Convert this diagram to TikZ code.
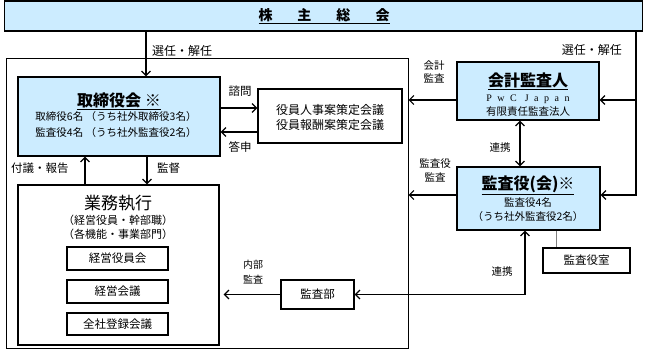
\documentclass[tikz,border=0pt]{standalone}
\usepackage{fontspec}
\setmainfont{Noto Sans CJK JP}
\newfontfamily\latinspaced[LetterSpace=55]{Liberation Serif}
\usetikzlibrary{arrows.meta}
\definecolor{boxblue}{HTML}{CCECFF}
\tikzset{
  box/.style={draw=black, line width=1.2pt, inner sep=0pt, rectangle},
  bluebox/.style={box, fill=boxblue},
  txt/.style={inner sep=0pt, align=center, font=\fontsize{10.5}{14}\selectfont},
  lbl/.style={inner sep=0pt, align=center, font=\fontsize{11.5}{14}\selectfont},
  ttl/.style={inner sep=0pt, font=\fontsize{16}{18}\selectfont\bfseries},
  arr/.style={line width=1.2pt, -{Straight Barb[length=4.5pt,width=9pt]}},
  dblarr/.style={line width=1.2pt, {Straight Barb[length=4.5pt,width=9pt]}-{Straight Barb[length=4.5pt,width=9pt]}},
  plain/.style={line width=1.2pt}
}
\begin{document}
\begin{tikzpicture}[x=1pt,y=-1pt]
\useasboundingbox (0,0) rectangle (645,351);
% helper coordinates
\coordinate (x85) at (85,0);
\coordinate (x146) at (146,0);
\coordinate (x147) at (147,0);
\coordinate (x520) at (520,0);
\coordinate (x525) at (525,0);
\coordinate (x556) at (556,0);
\coordinate (xR) at (636,0);
\coordinate (y100) at (0,100);
\coordinate (y108) at (0,108);
\coordinate (y132) at (0,132);
\coordinate (y195) at (0,195);

% boxes
\node[bluebox, minimum width=638, minimum height=30] (soc) at (323.5,16) {};
\node[inner sep=0pt, font=\fontsize{14}{16}\selectfont\bfseries] (soct) at (324,16)
  {\underline{株\hspace{25pt}主\hspace{25pt}総\hspace{25pt}会}};

\node[draw=black, line width=1pt, inner sep=0pt, minimum width=402, minimum height=290] (outer) at (207,203) {};

\node[bluebox, minimum width=202, minimum height=79] (board) at (119,116.5) {};
\node[ttl] (boardt) at (119,101) {\underline{取締役会 ※}};
\node[txt] (board1) at (116,117) {取締役6名 （うち社外取締役3名）};
\node[txt] (board2) at (116,133) {監査役4名 （うち社外監査役2名）};

\node[box, minimum width=144, minimum height=54] (comm) at (330,116) {};
\node[txt, font=\fontsize{12}{15}\selectfont] (commt) at (330,117.5) {役員人事案策定会議\\役員報酬案策定会議};

\node[box, minimum width=201, minimum height=160] (exec) at (118.5,265) {};
\node[inner sep=0pt, font=\fontsize{17}{19}\selectfont] (exect) at (118,203) {業務執行};
\node[txt, font=\fontsize{11}{14}\selectfont] (exec1) at (118,227) {（経営役員・幹部職）\\（各機能・事業部門）};
\node[box, minimum width=101, minimum height=23] (m1) at (117.5,258.5) {};
\node[txt, font=\fontsize{11.5}{14}\selectfont] (m1t) at (117.5,258.5) {経営役員会};
\node[box, minimum width=101, minimum height=23] (m2) at (117.5,291.5) {};
\node[txt, font=\fontsize{11.5}{14}\selectfont] (m2t) at (117.5,291.5) {経営会議};
\node[box, minimum width=101, minimum height=22] (m3) at (117.5,324) {};
\node[txt, font=\fontsize{11.5}{14}\selectfont] (m3t) at (117.5,324) {全社登録会議};

\node[bluebox, minimum width=142, minimum height=58] (kaikei) at (528,91) {};
\node[ttl] (kaikeit) at (528,81) {\underline{会計監査人}};
\node[inner sep=0pt, font=\latinspaced\fontsize{10}{12}\selectfont] (pwc) at (528,99) {PwC Japan};
\node[txt] (kaikei2) at (528,112) {有限責任監査法人};

\node[bluebox, minimum width=143, minimum height=63] (kansa) at (528.5,198.5) {};
\node[ttl] (kansat) at (528,185) {\underline{監査役(会)※}};
\node[txt] (kansa1) at (528,203) {監査役4名};
\node[txt] (kansa2) at (528,217) {（うち社外監査役2名）};

\node[box, minimum width=87, minimum height=25] (office) at (586.5,260.5) {};
\node[txt, font=\fontsize{11.5}{14}\selectfont] (officet) at (586.5,260.5) {監査役室};

\node[box, minimum width=73, minimum height=29] (audit) at (317.5,294.5) {};
\node[txt, font=\fontsize{11.5}{14}\selectfont] (auditt) at (317.5,294.5) {監査部};

% connectors
\draw[arr] (x146 |- soc.south) -- (x146 |- board.north);
\draw[arr] (board.east |- y108) -- (comm.west |- y108);
\draw[arr] (comm.west |- y132) -- (board.east |- y132);
\draw[arr] (x85 |- exec.north) -- (x85 |- board.south);
\draw[arr] (x147 |- board.south) -- (x147 |- exec.north);
\draw[arr] (kaikei.west |- y100) -- (outer.east |- y100);
\draw[arr] (kansa.west |- y195) -- (outer.east |- y195);
\draw[arr] (xR |- soc.south) |- (kansa.east |- y195);
\draw[arr] (xR |- y100) -- (kaikei.east |- y100);
\draw[dblarr] (x520 |- kaikei.south) -- (x520 |- kansa.north);
\draw[dblarr] (x525 |- kansa.south) |- (audit.east);
\draw[arr, shorten >=4pt] (audit.west) -- (exec.east |- audit.west);
\draw[gray, line width=1pt] (x556 |- kansa.south) -- (x556 |- office.north);

% labels
\node[lbl, anchor=west, font=\fontsize{12}{16}\selectfont] (l1) at (152,51) {選任・解任};
\node[lbl, anchor=east, font=\fontsize{12}{16}\selectfont] (l2) at (622,50) {選任・解任};
\node[lbl] (l3) at (240,91) {諮問};
\node[lbl] (l4) at (240,147) {答申};
\node[lbl, anchor=west] (l5) at (11,168) {付議・報告};
\node[lbl, anchor=west] (l6) at (157,168) {監督};
\node[lbl, font=\fontsize{10.5}{13}\selectfont] (l7) at (434,71.5) {会計\\監査};
\node[lbl, font=\fontsize{10.5}{14}\selectfont] (l8) at (435,170) {監査役\\監査};
\node[lbl, font=\fontsize{10.5}{14}\selectfont] (l9) at (500,148) {連携};
\node[lbl, font=\fontsize{10.5}{14}\selectfont] (l10) at (502,272) {連携};
\node[lbl, font=\fontsize{10}{15}\selectfont] (l11) at (253,272.5) {内部\\監査};
\end{tikzpicture}
\end{document}
